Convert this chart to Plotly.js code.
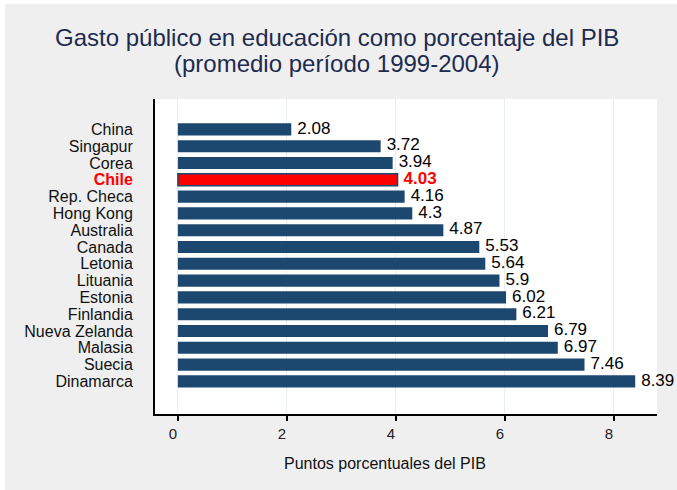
<!DOCTYPE html>
<html>
<head>
<meta charset="utf-8">
<script src="https://cdn.plot.ly/plotly-3.0.1.min.js"></script>
<style>
html,body{margin:0;padding:0;background:#ffffff;}
#chart{position:absolute;left:5px;top:4px;width:672px;height:486px;}
</style>
</head>
<body>
<div id="chart"></div>
<script>
const countries = ["China","Singapur","Corea","Chile","Rep. Checa","Hong Kong","Australia","Canada","Letonia","Lituania","Estonia","Finlandia","Nueva Zelanda","Malasia","Suecia","Dinamarca"];
const values = [2.08,3.72,3.94,4.03,4.16,4.3,4.87,5.53,5.64,5.9,6.02,6.21,6.79,6.97,7.46,8.39];
const highlight = "Chile";
const xTicks = [0,2,4,6,8];
const titleLines = ["Gasto público en educación como porcentaje del PIB","(promedio período 1999-2004)"];
const xTitle = "Puntos porcentuales del PIB";

const NAVY = "#1C4870";
const RED = "#FF0000";
const FONT = "Liberation Sans, Arial, sans-serif";
const idx = countries.map((c,i)=>i);
const isHi = countries.map(c => c === highlight);

const bars = {
  type: "bar",
  orientation: "h",
  x: values,
  y: idx,
  width: 0.72,
  marker: {
    color: isHi.map(h => h ? RED : NAVY),
    line: {color: NAVY, width: isHi.map(h => h ? 1.5 : 0)}
  },
  hoverinfo: "skip"
};
const labels = {
  type: "scatter",
  mode: "markers+text",
  x: values,
  y: idx,
  marker: {size: 8, color: "rgba(0,0,0,0)"},
  text: values.map((v,i) => isHi[i] ? "<b>"+v+"</b>" : String(v)),
  textposition: "middle right",
  textfont: {family: FONT, size: 17, color: isHi.map(h => h ? RED : "#000000")},
  cliponaxis: false,
  hoverinfo: "skip"
};

const layout = {
  width: 672, height: 486,
  paper_bgcolor: "#EFEFEF",
  plot_bgcolor: "#FFFFFF",
  showlegend: false,
  margin: {l: 150, r: 20, t: 95, b: 76, pad: 0},
  font: {family: FONT, color: "#111111"},
  annotations: [
    {text: titleLines[0], xref: "paper", yref: "paper", x: 0.3625, y: 1, xanchor: "center", yanchor: "middle", yshift: 62, showarrow: false,
     font: {size: 24, color: "#1E2B50", family: FONT}},
    {text: titleLines[1], xref: "paper", yref: "paper", x: 0.3625, y: 1, xanchor: "center", yanchor: "middle", yshift: 36, showarrow: false,
     font: {size: 24, color: "#1E2B50", family: FONT}},
    {text: xTitle, xref: "paper", yref: "paper", x: 0.458, y: 0, xanchor: "center", yanchor: "middle", yshift: -49, showarrow: false,
     font: {size: 16, color: "#111111", family: FONT}}
  ],
  xaxis: {
    range: [-0.42, 8.79],
    tickvals: xTicks,
    ticktext: xTicks.map(String),
    ticks: "outside", ticklen: 5, tickwidth: 1.5, tickcolor: "#000000",
    ticklabelshift: -5,
    tickfont: {size: 15, color: "#222222"},
    showline: true, linecolor: "#000000", linewidth: 2,
    showgrid: true, gridcolor: "#E6EEF3", gridwidth: 1,
    zeroline: false,
    fixedrange: true,
    automargin: false
  },
  yaxis: {
    range: [16.94, -1.81],
    tickvals: idx,
    ticktext: countries.map((c,i) => isHi[i] ? '<span style="color:#FF0000"><b>'+c+'</b></span>' : c),
    ticks: "",
    ticklabelstandoff: 17,
    tickfont: {size: 16, color: "#111111"},
    showline: true, linecolor: "#000000", linewidth: 2,
    showgrid: false, zeroline: false,
    fixedrange: true,
    automargin: false
  }
};

Plotly.newPlot("chart", [bars, labels], layout, {displayModeBar: false, staticPlot: true});
</script>
</body>
</html>
